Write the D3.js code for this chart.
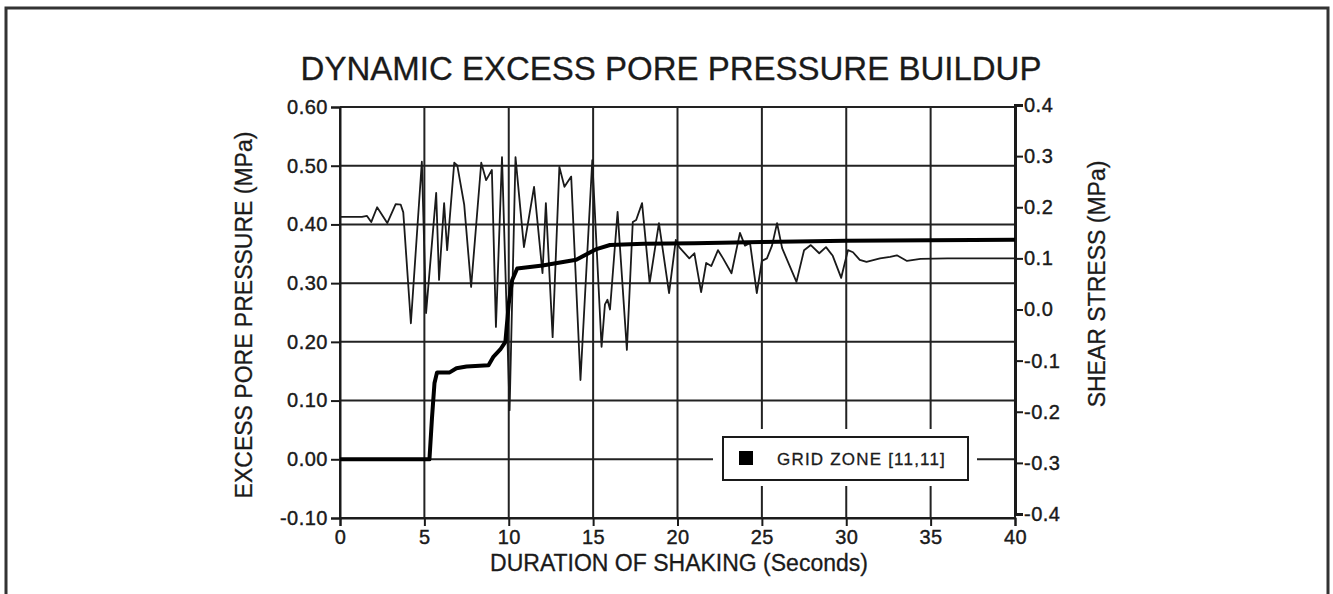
<!DOCTYPE html>
<html>
<head>
<meta charset="utf-8">
<script src="https://cdn.jsdelivr.net/npm/d3@7"></script>
<style>
	body { margin: 0; background: #fff; }
	svg { display: block; font-family: "Liberation Sans", Arial, Helvetica, sans-serif; }
	.tick text { fill: #1a1a1a; }
</style>
</head>
<body>
<svg id="chart" width="1333" height="594"></svg>
<script>
// pore pressure (thick line, left axis)
let poreTime = [0, 5.3, 5.45, 5.6, 5.75, 6.5, 6.9, 7.5, 8.8, 9.1, 9.5, 9.8, 10.0, 10.2, 10.5, 12, 14, 15.2, 16, 18, 21, 25, 30, 35, 40];
let porePressure = [0, 0, 0.07, 0.13, 0.148, 0.148, 0.155, 0.158, 0.16, 0.175, 0.187, 0.2, 0.265, 0.305, 0.325, 0.33, 0.34, 0.358, 0.365, 0.367, 0.368, 0.37, 0.372, 0.373, 0.374];

// shear stress (thin line, right axis)
let shearTime = [0, 1.3, 1.6, 1.85, 2.2, 2.8, 3.3, 3.6, 3.75, 4.2, 4.85, 5.1, 5.7, 5.87, 6.17, 6.35, 6.77, 6.95, 7.36, 7.77,
	8.37, 8.66, 9.0, 9.24, 9.6, 10.05, 10.4, 10.9, 11.5, 12.0, 12.2, 12.6, 13.0, 13.3, 13.7, 14.25, 14.95, 15.5, 15.7, 15.85,
	16.0, 16.45, 17.0, 17.35, 17.55, 17.9, 18.35, 18.9, 19.5, 19.9, 20.1, 20.7, 21.0, 21.4, 21.7, 22.0, 22.4, 22.7, 23.2, 23.7,
	24.0, 24.3, 24.7, 25.0, 25.3, 25.6, 25.9, 26.2, 27.05, 27.5, 27.9, 28.4, 28.8, 29.2, 29.7, 30.1, 30.4, 30.8, 31.2, 32.0,
	32.6, 33.0, 33.6, 34.4, 36.0, 40.0];
let shearStress = [0.181, 0.181, 0.183, 0.171, 0.2, 0.169, 0.206, 0.205, 0.19, -0.027, 0.289, -0.007, 0.228, 0.058, 0.208, 0.116, 0.287, 0.282, 0.205, 0.044,
	0.287, 0.253, 0.273, -0.034, 0.298, -0.197, 0.298, 0.122, 0.24, 0.071, 0.208, -0.054, 0.279, 0.24, 0.26, -0.138, 0.292, -0.073, 0.01, 0.019,
	0, 0.191, -0.079, 0.171, 0.175, 0.208, 0.052, 0.169, 0.032, 0.136, 0.122, 0.1, 0.11, 0.034, 0.091, 0.085, 0.116, 0.1, 0.071, 0.15,
	0.125, 0.13, 0.032, 0.095, 0.1, 0.125, 0.169, 0.12, 0.054, 0.116, 0.126, 0.11, 0.122, 0.105, 0.062, 0.116, 0.112, 0.097, 0.093, 0.1,
	0.103, 0.106, 0.095, 0.099, 0.1, 0.1];

// ticks
let xTicks = [0, 5, 10, 15, 20, 25, 30, 35, 40];
let leftTicks = [-0.1, 0, 0.1, 0.2, 0.3, 0.4, 0.5, 0.6];
let leftTickLabels = ["-0.10", "0.00", "0.10", "0.20", "0.30", "0.40", "0.50", "0.60"];
let rightTicks = [-0.4, -0.3, -0.2, -0.1, 0, 0.1, 0.2, 0.3, 0.4];
let rightTickLabels = ["-0.4", "-0.3", "-0.2", "-0.1", "0.0", "0.1", "0.2", "0.3", "0.4"];

let title = "DYNAMIC EXCESS PORE PRESSURE BUILDUP",
	xTitle = "DURATION OF SHAKING (Seconds)",
	leftTitle = "EXCESS PORE PRESSURE (MPa)",
	rightTitle = "SHEAR STRESS (MPa)",
	legendLabel = "GRID ZONE [11,11]";

let svg = d3.select("svg#chart"),
	ink = "#1a1a1a";

let x = d3.scaleLinear().domain([0, 40]).range([340, 1015]);
let yL = d3.scaleLinear().domain([-0.1, 0.6]).range([518, 107]);
let yR = d3.scaleLinear().domain([-0.4, 0.4]).range([514, 105]);

// outer frame
svg.append("rect")
	.attr("x", 6).attr("y", 8)
	.attr("width", 1322).attr("height", 600)
	.attr("fill", "none")
	.attr("stroke", "#333")
	.attr("stroke-width", 3);

svg.append("text")
	.attr("x", 671).attr("y", 80)
	.attr("text-anchor", "middle")
	.style("font-size", "33px")
	.attr("fill", ink)
	.attr("stroke", ink).attr("stroke-width", 0.3)
	.text(title);

// grid
let grid = svg.append("g").attr("stroke", "#222").attr("stroke-width", 2);
grid.selectAll("line.h")
	.data(leftTicks)
	.enter().append("line")
	.attr("class", "h")
	.attr("x1", x(0)).attr("x2", x(40))
	.attr("y1", function(d) { return yL(d); })
	.attr("y2", function(d) { return yL(d); });
grid.selectAll("line.v")
	.data(xTicks)
	.enter().append("line")
	.attr("class", "v")
	.attr("x1", function(d) { return x(d); })
	.attr("x2", function(d) { return x(d); })
	.attr("y1", yL(0.6)).attr("y2", yL(-0.1));

// axes
let axisL = svg.append("g")
	.attr("transform", "translate(" + x(0) + ",0)")
	.call(d3.axisLeft(yL).tickValues(leftTicks).tickSize(9).tickPadding(3)
		.tickFormat(function(d, i) { return leftTickLabels[i]; }));
let axisR = svg.append("g")
	.attr("transform", "translate(" + x(40) + ",0)")
	.call(d3.axisRight(yR).tickValues(rightTicks).tickSize(8).tickPadding(1)
		.tickFormat(function(d, i) { return rightTickLabels[i]; }));
let axisB = svg.append("g")
	.attr("transform", "translate(0," + yL(-0.1) + ")")
	.call(d3.axisBottom(x).tickValues(xTicks).tickSize(8).tickPadding(4));

[axisL, axisR, axisB].forEach(function(a) {
	a.select(".domain").attr("stroke", ink).attr("stroke-width", 2);
	a.selectAll(".tick line").attr("stroke", ink).attr("stroke-width", 2);
	a.selectAll(".tick text")
		.style("font-family", "'Liberation Sans', Arial, sans-serif")
		.style("font-size", "20px")
		.style("letter-spacing", "0.5px")
		.attr("stroke", ink).attr("stroke-width", 0.4);
});
axisR.select(".domain").attr("stroke-width", 3);

// axis titles
svg.append("text")
	.attr("transform", "translate(252,315) rotate(-90)")
	.attr("text-anchor", "middle")
	.style("font-size", "23px")
	.attr("fill", ink)
	.attr("stroke", ink).attr("stroke-width", 0.3)
	.text(leftTitle);
svg.append("text")
	.attr("transform", "translate(1105,284) rotate(-90)")
	.attr("text-anchor", "middle")
	.style("font-size", "23px")
	.attr("fill", ink)
	.attr("stroke", ink).attr("stroke-width", 0.3)
	.text(rightTitle);
svg.append("text")
	.attr("x", 679).attr("y", 571)
	.attr("text-anchor", "middle")
	.style("font-size", "23px")
	.attr("fill", ink)
	.attr("stroke", ink).attr("stroke-width", 0.3)
	.text(xTitle);

// series
let shearLine = d3.line()
	.x(function(d, i) { return x(shearTime[i]); })
	.y(function(d) { return yR(d); });
svg.append("path")
	.datum(shearStress)
	.attr("d", shearLine)
	.attr("fill", "none")
	.attr("stroke", ink)
	.attr("stroke-width", 1.8)
	.attr("stroke-linejoin", "round");

let poreLine = d3.line()
	.x(function(d, i) { return x(poreTime[i]); })
	.y(function(d) { return yL(d); });
svg.append("path")
	.datum(porePressure)
	.attr("d", poreLine)
	.attr("fill", "none")
	.attr("stroke", "#000")
	.attr("stroke-width", 4)
	.attr("stroke-linejoin", "round");

// legend, with a white gap cut out of the grid round it
svg.append("rect")
	.attr("x", 713).attr("y", 429)
	.attr("width", 264).attr("height", 57)
	.attr("fill", "#fff");
svg.append("rect")
	.attr("x", 723).attr("y", 437)
	.attr("width", 245).attr("height", 43)
	.attr("fill", "#fff")
	.attr("stroke", ink)
	.attr("stroke-width", 2);
svg.append("rect")
	.attr("x", 739).attr("y", 451)
	.attr("width", 14).attr("height", 14)
	.attr("fill", "#000");
svg.append("text")
	.attr("x", 777).attr("y", 465)
	.style("font-size", "17px")
	.style("letter-spacing", "1.2px")
	.attr("fill", ink)
	.attr("stroke", ink).attr("stroke-width", 0.3)
	.text(legendLabel);
</script>
</body>
</html>
